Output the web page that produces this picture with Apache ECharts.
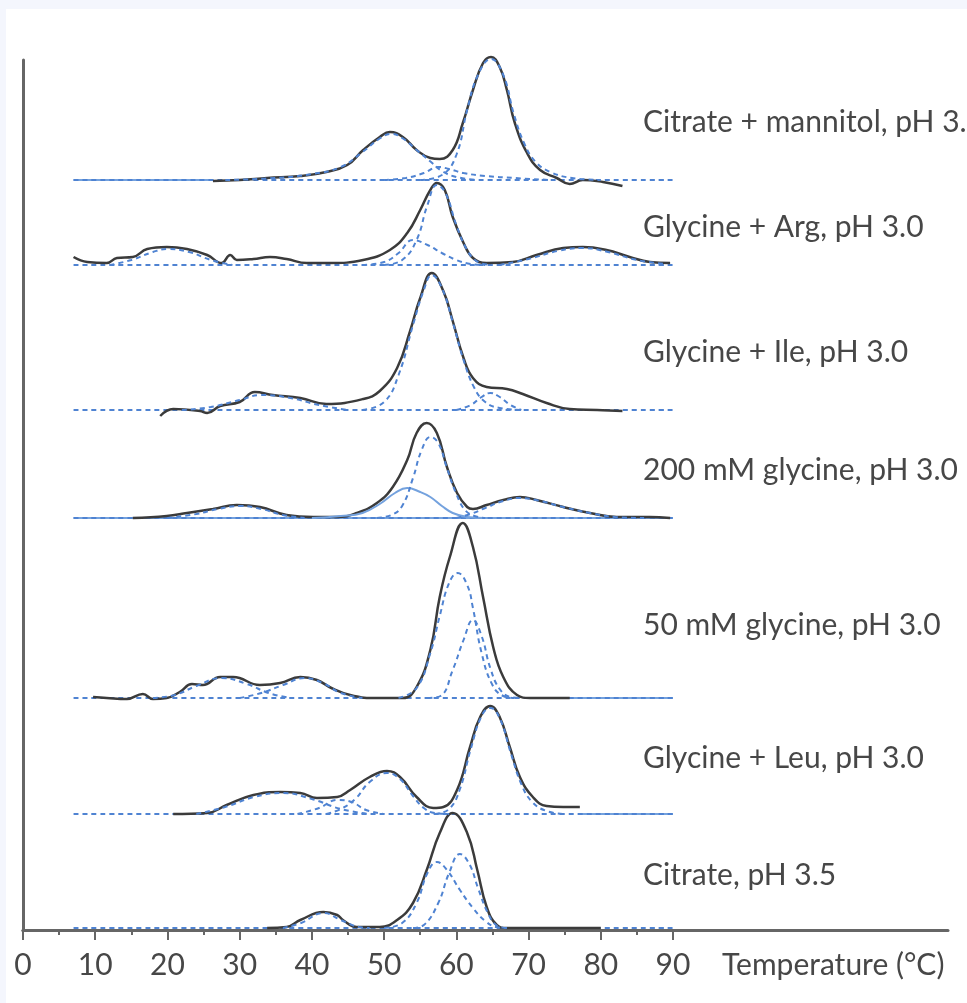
<!DOCTYPE html>
<html>
<head>
<meta charset="utf-8">
<script src="https://cdn.jsdelivr.net/npm/echarts@6/dist/echarts.min.js"></script>
<style>
  html, body { margin: 0; padding: 0; background: #f4f6fd; }
  #frame { position: absolute; left: 6px; top: 9px; right: 0; bottom: 0; background: #ffffff; }
  #chart { position: absolute; left: 0; top: 0; width: 967px; height: 1003px; }
</style>
</head>
<body>
<div id="frame"></div>
<div id="chart"></div>
<script>
// ---- Stacked thermograms with deconvolved transition peaks ----
// Each trace: [temperature °C, signal above its own baseline]

const temperatureTicks = [0, 10, 20, 30, 40, 50, 60, 70, 80, 90];

const traceNames = [
  'Citrate + mannitol, pH 3.5',
  'Glycine + Arg, pH 3.0',
  'Glycine + Ile, pH 3.0',
  '200 mM glycine, pH 3.0',
  '50 mM glycine, pH 3.0',
  'Glycine + Leu, pH 3.0',
  'Citrate, pH 3.5'
];

// vertical offset of each trace's baseline
const baselineOffsets = [75.0, 66.5, 52.0, 41.2, 23.2, 11.6, 0.2];
// temperature span of the fitted baseline
const baselineSpan = [7, 90];

// Citrate + mannitol
const mannitolMeasured = [[26.3,-0.1],[30,0],[33.8,0.2],[38.4,0.4],[42,0.8],[44.9,1.5],[47.1,3.0],[49.4,4.3],[50.8,4.8],[52.6,4.3],[54.5,3.0],[56.4,2.2],[57.7,2.1],[59.5,3.0],[60.9,5.7],[62.3,9.0],[63.7,11.7],[64.8,12.3],[66,11.3],[67,9.0],[68.1,5.7],[69.8,2.7],[71.6,1.0],[73.9,0.2],[75.7,-0.4],[77.5,0],[80.3,-0.2],[83,-0.6]];
const mannitolPeak51 = [[28,0],[35,0.2],[40,0.6],[44,1.3],[47,2.8],[49.5,4.2],[51,4.6],[52.5,4.2],[54.5,3.0],[56.5,1.8],[58,0.9],[60,0.3],[63,0]];
const mannitolPeak57 = [[50,0],[53,0.2],[55.5,0.7],[57.5,1.3],[59,1.1],[61,0.7],[64,0.4],[68,0.2],[73,0]];
const mannitolPeak65 = [[55,0],[58,0.5],[60,2.5],[61.5,7.0],[63,10.5],[64.8,12.1],[66.5,10.5],[68,6.5],[69.5,3.5],[71,1.8],[73,0.8],[76,0.2],[80,0]];

// Glycine + Arg
const argMeasured = [[7,0.8],[8.9,0.3],[11.6,0.2],[13,0.7],[15.2,0.8],[17.2,1.6],[19.9,1.8],[22.7,1.6],[25.5,1.0],[27.5,0.2],[28.7,1.0],[29.6,0.5],[31.9,0.6],[34.2,0.8],[36.5,0.6],[39.3,0.2],[42.5,0.2],[47.1,0.5],[50.8,1.5],[53.2,3.2],[55,5.5],[56.4,7.5],[57.3,8.2],[58.4,7.5],[59.5,4.8],[61,2.2],[62.3,0.7],[64.2,0.2],[67.8,0.3],[71.1,1.0],[74.8,1.7],[77.5,1.8],[80.8,1.5],[84,0.8],[86.8,0.3],[89.6,0.2]];
const argPeak20 = [[12,0],[15,0.5],[18,1.3],[20,1.6],[23,1.3],[26,0.5],[29,0]];
const argPeak54 = [[47,0],[50,0.3],[52,1.2],[54,2.5],[56,2.0],[58,1.2],[60,0.5],[62,0.1],[64,0]];
const argPeak57 = [[50,0],[52.5,0.5],[54.5,2.5],[56,6.0],[57.3,8.0],[58.5,7.2],[60,4.0],[61.5,1.5],[63,0.3],[65,0]];
const argPeak77 = [[66,0],[70,0.6],[74,1.4],[77.5,1.7],[81,1.3],[85,0.5],[89,0.1]];

// Glycine + Ile
const ileMeasured = [[19,-0.6],[20.8,0.1],[24.5,-0.1],[25.5,-0.3],[27.3,0.4],[30,0.8],[32.1,1.8],[34.6,1.5],[38.4,1.2],[42,0.6],[47.1,1.1],[49.4,1.9],[51.8,4.2],[53.6,7.9],[55,11.2],[56.6,13.7],[58.2,11.9],[59.5,8.9],[61,5.2],[62.3,3.2],[64.2,2.3],[67,2.1],[69.2,1.6],[72.5,0.7],[75.7,0.1],[79.5,0],[83,-0.1]];
const ilePeak33 = [[22,0],[26,0.3],[30,1.0],[33,1.5],[37,1.2],[41,0.5],[45,0]];
const ilePeak57 = [[47,0],[50,0.8],[52,3.5],[54,8.5],[55.5,12.0],[56.6,13.5],[58,12.2],[59.5,8.8],[61,5.0],[62.5,2.2],[64,0.8],[66,0.2],[69,0]];
const ilePeak65 = [[60,0],[62,0.5],[63.5,1.3],[64.7,1.7],[66,1.3],[67.5,0.5],[69,0]];

// 200 mM glycine
const gly200Measured = [[15.2,0],[19.9,0.2],[22.7,0.5],[26.3,0.9],[29.6,1.3],[32.8,1.1],[36.5,0.3],[40.2,0.1],[43.5,0.1],[46.2,0.5],[49,1.5],[51.2,3.1],[53.2,5.8],[54.5,8.5],[55.9,9.5],[57.3,8.5],[58.7,5.1],[60.1,2.5],[61.5,1.1],[62.3,0.9],[64.2,1.3],[66.5,1.8],[68.8,2.1],[71.1,1.8],[74.8,1.1],[78.5,0.5],[82.2,0.1],[86.8,0.1],[89.6,0]];
const gly200Peak30 = [[20,0],[24,0.4],[27,0.9],[30,1.2],[33,0.9],[36,0.3],[39,0]];
const gly200Peak53 = [[40,0],[44,0.2],[47,0.5],[49.6,1.5],[51.5,2.5],[53.2,3.0],[55,2.6],[56.4,2.1],[58,1.2],[59.5,0.5],[61.5,0.1],[64,0]];
const gly200Peak56 = [[49,0],[51,0.3],[52.5,1.2],[54,4.0],[55.2,6.8],[56.4,8.1],[57.5,7.5],[58.7,5.0],[60,2.4],[61.2,0.8],[62.5,0.2],[64,0]];
const gly200Peak69 = [[60,0],[62,0.4],[64,1.0],[66.5,1.7],[68.8,2.0],[71,1.8],[74.8,1.1],[78.5,0.5],[82,0.1],[86,0]];

// 50 mM glycine
const gly50Measured = [[9.7,0.1],[11.6,0],[14.4,-0.1],[16.6,0.4],[18,-0.1],[19.9,0],[21.7,0.6],[23.4,1.4],[24.9,1.3],[27.3,2.1],[29.1,2.1],[32.8,1.3],[35.6,1.5],[38.4,2.1],[40.7,1.8],[42.7,1.0],[45.3,0.3],[48.5,0],[52.6,0],[54.5,1.1],[56.4,4.8],[57.7,10.1],[59.1,14.1],[60.9,17.5],[62.3,15.1],[63.7,10.1],[65.1,5.1],[66.5,2.1],[68.4,0.3],[70.2,0],[75.7,0]];
const gly50Peak27 = [[18,0],[21,0.3],[24,1.2],[27.5,2.0],[31,1.4],[34,0.5],[37,0]];
const gly50Peak39 = [[30,0],[33,0.5],[36,1.3],[39,2.0],[41.5,1.5],[44,0.5],[47,0]];
const gly50Peak60 = [[52,0],[54.5,1.0],[56.4,4.5],[57.7,8.2],[59,11.5],[60.2,12.5],[61.5,11.3],[62.3,9.0],[63.5,4.5],[65,1.3],[66.5,0.2],[68,0]];
const gly50Peak62 = [[56,0],[57.8,0.2],[59.5,2.8],[61,5.8],[62.3,7.8],[63.5,6.2],[64.7,3.0],[66,0.9],[67.5,0.1],[69,0]];

// Glycine + Leu
const leuMeasured = [[20.8,0],[25.5,0.1],[28.2,0.9],[31.9,1.9],[35.6,2.2],[38.4,2.1],[40.7,1.6],[43.5,1.7],[45.3,2.4],[48,3.7],[50.4,4.3],[52.2,3.7],[54.5,1.7],[56.8,0.6],[58.2,0.7],[60.1,2.4],[61.9,6.7],[63.3,9.7],[64.7,10.8],[66,9.7],[67.4,6.7],[68.8,3.7],[70.6,1.7],[72.5,0.8],[74.8,0.7],[77.1,0.7]];
const leuPeak36 = [[24,0],[28,0.7],[32,1.7],[36,2.1],[40,1.5],[44,0.5],[48,0]];
const leuPeak44 = [[38,0],[41,0.6],[43.5,1.4],[45.5,1.2],[47.5,0.4],[50,0]];
const leuPeak50 = [[42,0],[44,0.5],[46,1.5],[48,3.2],[50.4,4.1],[52.2,3.5],[54,1.8],[55.5,0.6],[57,0.1],[59,0]];
const leuPeak65 = [[57,0],[59,0.5],[60.5,2.5],[62,6.5],[63.5,9.8],[64.7,10.6],[66,9.6],[67.5,6.2],[69,3.0],[70.5,1.2],[72.5,0.3],[75,0]];

// Citrate, pH 3.5
const citrateMeasured = [[33.8,0],[36.5,0.1],[38.4,0.8],[41.6,1.6],[43.5,1.3],[44.3,0.8],[46.2,0.1],[49.4,0.1],[51.8,0.8],[54,2.5],[55.9,5.8],[57.7,9.5],[59.5,11.5],[61.5,9.5],[62.9,5.8],[64.2,2.1],[65.6,0.3],[67,0],[80,0]];
const citratePeak42 = [[36,0],[38.5,0.5],[41.6,1.5],[44,0.8],[46.5,0.1],[48,0]];
const citratePeak57 = [[50,0],[52.5,0.5],[54.5,2.5],[56,5.5],[57.3,6.6],[58.7,5.8],[60.5,3.8],[62.3,2.0],[64,0.7],[65.5,0.1],[67,0]];
const citratePeak60 = [[54,0],[55.5,0.3],[57.5,2.5],[59,5.5],[60.5,7.4],[61.8,6.4],[63,4.0],[64.3,1.6],[65.5,0.3],[67,0]];

// temperature ranges where the fitted baseline is drawn as a solid line
const solidBaselineSpans = [[[7, 26.3]], [], [], [[7, 90]], [[75.7, 90]], [[77.1, 90]], []];

const traces = [
  { measured: mannitolMeasured, dashed: [mannitolPeak51, mannitolPeak57, mannitolPeak65], solid: [] },
  { measured: argMeasured,      dashed: [argPeak20, argPeak54, argPeak57, argPeak77], solid: [] },
  { measured: ileMeasured,      dashed: [ilePeak33, ilePeak57, ilePeak65], solid: [] },
  { measured: gly200Measured,   dashed: [gly200Peak30, gly200Peak56, gly200Peak69], solid: [gly200Peak53] },
  { measured: gly50Measured,    dashed: [gly50Peak27, gly50Peak39, gly50Peak60, gly50Peak62], solid: [] },
  { measured: leuMeasured,      dashed: [leuPeak36, leuPeak44, leuPeak50, leuPeak65], solid: [] },
  { measured: citrateMeasured,  dashed: [citratePeak42, citratePeak57, citratePeak60], solid: [] }
];

// ---- styling / layout ----
const FONT = 'Lato, "Open Sans", sans-serif';
const TEXT_COLOR = '#474747';
const AXIS_COLOR = '#666666';
const MEASURED_COLOR = '#3b3b3b';
const FIT_COLOR = '#4f83d2';
const SOLID_FIT_COLOR = '#74a2de';
const LABEL_SIZE = 30;
const labelTops = [107, 212, 337, 455, 610, 743, 860];

function shifted(points, offset) {
  return points.map(p => [p[0], p[1] + offset]);
}

function lineSeries(data, color, width, type, z) {
  return {
    type: 'line', xAxisIndex: 0, yAxisIndex: 0,
    data: data, symbol: 'none', showSymbol: false,
    smooth: 0.45, clip: false,
    lineStyle: { color: color, width: width, type: type },
    silent: true, z: z, animation: false
  };
}

const series = [];
traces.forEach((t, i) => {
  const off = baselineOffsets[i];
  // fitted baseline
  series.push(lineSeries([[baselineSpan[0], off], [baselineSpan[1], off]], FIT_COLOR, 2, [5, 4], 3));
  solidBaselineSpans[i].forEach(span => {
    series.push(lineSeries([[span[0], off], [span[1], off]], SOLID_FIT_COLOR, 2, 'solid', 2));
  });
  // measured curve
  series.push(lineSeries(shifted(t.measured, off), MEASURED_COLOR, 2.5, 'solid', 4));
  // deconvolved components
  t.solid.forEach(c => series.push(lineSeries(shifted(c, off), SOLID_FIT_COLOR, 2, 'solid', 5)));
  t.dashed.forEach(c => series.push(lineSeries(shifted(c, off), FIT_COLOR, 2, [5, 4], 6)));
});

const chart = echarts.init(document.getElementById('chart'), null, { renderer: 'canvas' });

chart.setOption({
  animation: false,
  backgroundColor: 'transparent',
  title: traceNames.map((name, i) => ({
    text: name, left: 643, top: labelTops[i], padding: 0,
    textStyle: { fontFamily: FONT, fontSize: LABEL_SIZE, fontWeight: 'normal', color: TEXT_COLOR }
  })),
  grid: [
    { left: 23, right: 294, top: 60, bottom: 73 },
    { left: 23, right: 19, top: 60, bottom: 73 }
  ],
  xAxis: [
    {
      gridIndex: 0, type: 'value',
      min: temperatureTicks[0], max: temperatureTicks[temperatureTicks.length - 1], interval: 10,
      axisLine: { show: true, lineStyle: { color: AXIS_COLOR, width: 3 } },
      axisTick: { show: true, length: 10, lineStyle: { color: AXIS_COLOR, width: 2 } },
      minorTick: { show: true, splitNumber: 2, length: 5, lineStyle: { color: AXIS_COLOR, width: 2 } },
      splitLine: { show: false },
      axisLabel: { fontFamily: FONT, fontSize: LABEL_SIZE, color: TEXT_COLOR, margin: 20 },
      name: 'Temperature (°C)', nameLocation: 'end', nameGap: 49,
      nameTextStyle: { fontFamily: FONT, fontSize: LABEL_SIZE, color: TEXT_COLOR, verticalAlign: 'top', padding: [20, 0, 0, 0] }
    },
    {
      gridIndex: 1, type: 'value', min: 0, max: 1,
      axisLine: { show: true, lineStyle: { color: AXIS_COLOR, width: 3 } },
      axisTick: { show: false }, axisLabel: { show: false }, splitLine: { show: false }
    }
  ],
  yAxis: [
    {
      gridIndex: 0, type: 'value', min: 0, max: 87,
      axisLine: { show: true, lineStyle: { color: AXIS_COLOR, width: 3 } },
      axisTick: { show: false }, axisLabel: { show: false }, splitLine: { show: false }
    },
    {
      gridIndex: 1, type: 'value', min: 0, max: 1, show: false
    }
  ],
  series: series
});
</script>
</body>
</html>
